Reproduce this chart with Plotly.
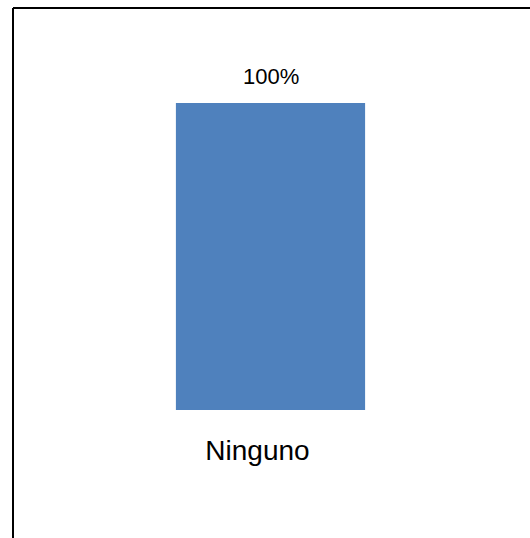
import plotly.graph_objects as go

categories = ["Ninguno"]
values = [100]
value_labels = ["100%"]

W, H = 530, 538
plot_l, plot_r = 34, 507
plot_t, plot_b = 42, 410
bar_top_px = 103
ymax = 100 * (plot_b - plot_t) / (plot_b - bar_top_px)

fig = go.Figure()
fig.add_trace(go.Bar(
    x=categories, y=values,
    marker=dict(color="#4F81BD", line=dict(width=0)),
    hoverinfo="skip",
))

for c, v, t in zip(categories, values, value_labels):
    fig.add_annotation(x=c, y=v, text=t, showarrow=False, yanchor="bottom",
                       yshift=12, xshift=0,
                       font=dict(family="Liberation Sans, Arial, sans-serif", size=22, color="#000000"))

def px_x(p):
    return (p - plot_l) / (plot_r - plot_l)

def px_y(p):
    return (plot_b - p) / (plot_b - plot_t)

# outer frame (cropped chart border: left and top edges)
fig.add_shape(type="line", xref="paper", yref="paper",
              x0=px_x(13), y0=px_y(8), x1=px_x(545), y1=px_y(8),
              line=dict(color="#000000", width=2))
fig.add_shape(type="line", xref="paper", yref="paper",
              x0=px_x(13), y0=px_y(8), x1=px_x(13), y1=px_y(550),
              line=dict(color="#000000", width=2))

fig.update_layout(
    width=W, height=H,
    margin=dict(l=plot_l, r=W - plot_r, t=plot_t, b=H - plot_b, pad=0),
    paper_bgcolor="#FFFFFF", plot_bgcolor="#FFFFFF",
    bargap=0.6,
    showlegend=False,
    hovermode=False,
    xaxis=dict(showgrid=False, zeroline=False, showline=False, ticks="",
               tickfont=dict(family="Liberation Sans, Arial, sans-serif", size=28, color="#000000"),
               ticklabelstandoff=21, ticklabelshift=-13),
    yaxis=dict(range=[0, ymax], visible=False, showgrid=False, zeroline=False),
)

fig.write_html("out.html",
               config={"displayModeBar": False},
               post_script="document.body.style.margin='0';document.body.style.overflow='hidden';")
